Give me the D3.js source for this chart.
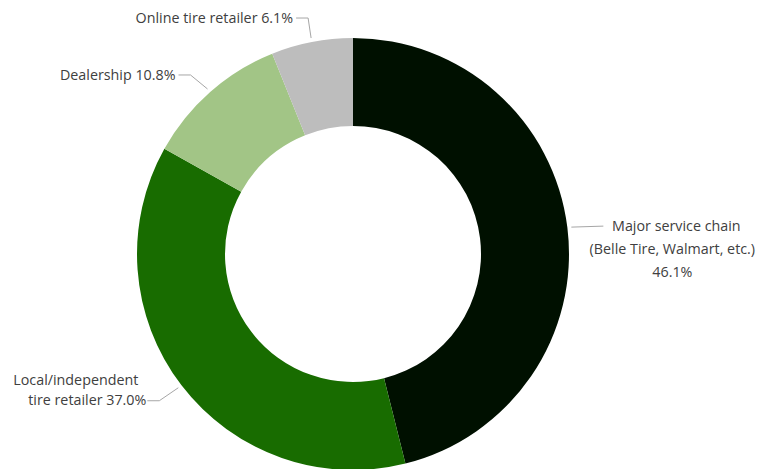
<!DOCTYPE html>
<html>
<head>
<meta charset="utf-8">
<script src="https://cdn.jsdelivr.net/npm/d3@7"></script>
<style>
  body { margin: 0; background: #fff; }
  svg text { font-family: "Open Sans", "Noto Sans", sans-serif; font-size: 14.3px; fill: #404040; }
</style>
</head>
<body>
<script>
// slices, clockwise from 12 o'clock
var categories = ["Major service chain", "Local/independent tire retailer", "Dealership", "Online tire retailer"];
var shares = [46.1, 37.0, 10.8, 6.1];
var colors = ["#001000", "#186c00", "#a2c586", "#bdbdbd"];
// label lines as in the picture
var labelLines = [
    ["Major service chain", "(Belle Tire, Walmart, etc.)", "46.1%"],
    ["Local/independent", "tire retailer 37.0%"],
    ["Dealership 10.8%"],
    ["Online tire retailer 6.1%"]
];

var width = 758, height = 469;
var cx = 353, cy = 254, outer = 216, inner = 128;

var svg = d3.select("body").append("svg")
    .attr("width", width).attr("height", height);

var g = svg.append("g").attr("transform", "translate(" + cx + "," + cy + ")");

var pie = d3.pie().sort(null).value(function (d) { return d; });
var arc = d3.arc().innerRadius(inner).outerRadius(outer);
var arcs = pie(shares);

g.selectAll("path.slice").data(arcs).enter().append("path")
    .attr("class", "slice")
    .attr("d", arc)
    .attr("fill", function (d, i) { return colors[i]; });

// leader lines + labels
function pt(a, r) { return [r * Math.sin(a), -r * Math.cos(a)]; }

arcs.forEach(function (d, i) {
    var mid = (d.startAngle + d.endAngle) / 2;
    var p0 = pt(mid, outer + 4);
    var lines = labelLines[i];
    var lg = g.append("g");
    var path, tx, ty, anchor;
    if (i === 0) {
        path = [p0, [p0[0] + 32, p0[1] - 1]];
        tx = p0[0] + 101; ty = p0[1] + 4; anchor = "middle";
    } else if (i === 1) {
        var p1 = [p0[0] - 19, p0[1] + 13];
        path = [p0, p1, [p1[0] - 12, p1[1]]];
        tx = p1[0] - 13; ty = p1[1] - 16; anchor = "end";
    } else if (i === 2) {
        var p1 = [p0[0] - 17, p0[1] - 14];
        path = [p0, p1, [p1[0] - 12, p1[1]]];
        tx = p1[0] - 15; ty = p1[1] + 5; anchor = "end";
    } else {
        var p1 = [p0[0] - 3, p0[1] - 20];
        path = [p0, p1, [p1[0] - 12, p1[1]]];
        tx = p1[0] - 15; ty = p1[1] + 5; anchor = "end";
    }
    lg.append("path")
        .attr("d", d3.line()(path))
        .attr("fill", "none")
        .attr("stroke", "#a6a6a6")
        .attr("stroke-width", 1);
    var t = lg.append("text")
        .attr("text-anchor", anchor)
        .attr("x", tx).attr("y", ty);
    lines.forEach(function (s, k) {
        t.append("tspan")
            .attr("x", (i === 1 && k === 0) ? tx - 8 : (i === 0 && k === 0 ? tx + 4 : tx))
            .attr("dy", k === 0 ? 0 : (i === 0 ? 23 : 20))
            .text(s);
    });
});
</script>
</body>
</html>
